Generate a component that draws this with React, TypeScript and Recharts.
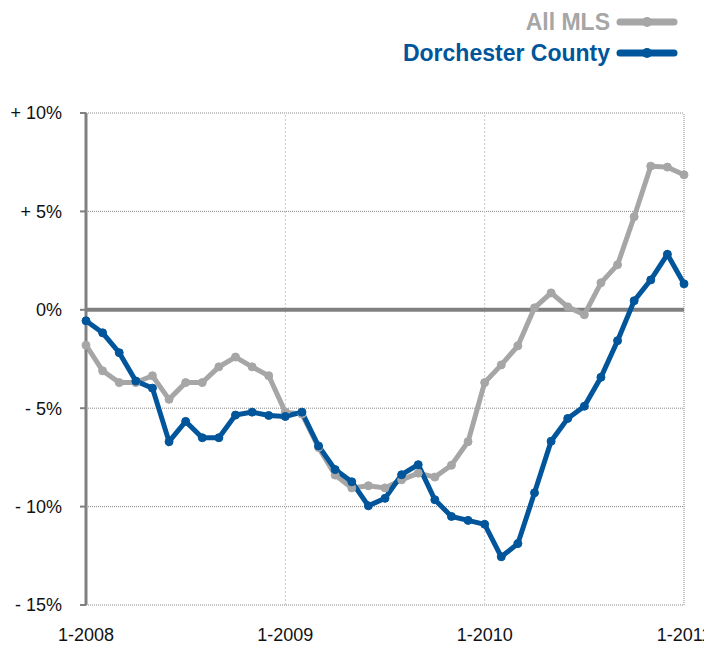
import { CartesianGrid, Line, LineChart, ReferenceLine, XAxis, YAxis } from "recharts";

const MONTHS = Array.from({ length: 37 }, (_, i) => i);

const ALL_MLS = [
  -1.8, -3.1, -3.7, -3.7, -3.35, -4.55, -3.7, -3.7, -2.9, -2.4, -2.9, -3.35,
  -5.2, -5.3, -7.0, -8.4, -9.05, -8.94, -9.05, -8.64, -8.3, -8.5, -7.9, -6.7,
  -3.7, -2.8, -1.83, 0.1, 0.86, 0.15, -0.25, 1.37, 2.29, 4.73, 7.3, 7.25, 6.86
];

const DORCHESTER = [
  -0.56, -1.17, -2.18, -3.62, -3.98, -6.7, -5.67, -6.5, -6.5, -5.35, -5.2, -5.37,
  -5.42, -5.2, -6.92, -8.12, -8.74, -9.96, -9.58, -8.38, -7.87, -9.65, -10.5, -10.7,
  -10.9, -12.55, -11.88, -9.3, -6.68, -5.52, -4.9, -3.43, -1.57, 0.46, 1.52, 2.82, 1.32
];

const X_TICKS = [0, 12, 24, 36];
const X_LABELS = ["1-2008", "1-2009", "1-2010", "1-2011"];
const Y_TICKS = [-15, -10, -5, 0, 5, 10];
const Y_LABELS = ["- 15%", "- 10%", "- 5%", "0%", "+ 5%", "+ 10%"];

const SERIES = [
  { key: "allMls", name: "All MLS", color: "#a6a6a6" },
  { key: "dorchester", name: "Dorchester County", color: "#00559b" }
];

const data = MONTHS.map((m, i) => ({ month: m, allMls: ALL_MLS[i], dorchester: DORCHESTER[i] }));

const FONT = '"Liberation Sans", Arial, Helvetica, sans-serif';

function ChartLegend() {
  return (
    <>
      {SERIES.map((s, i) => (
        <div key={s.key} style={{ position: "absolute", top: 14 + i * 31 - 15, left: 0, width: 704, height: 30 }}>
          <span
            style={{
              position: "absolute",
              right: 102,
              top: 0,
              lineHeight: "30px",
              fontFamily: FONT,
              fontWeight: "bold",
              fontSize: 23,
              color: s.color,
              whiteSpace: "nowrap"
            }}
          >
            {s.name}
          </span>
          <svg style={{ position: "absolute", left: 608, top: 9 }} width={62} height={12}>
            <line x1={4} y1={6} x2={58} y2={6} stroke={s.color} strokeWidth={7} strokeLinecap="round" />
            <circle cx={31} cy={6} r={5} fill={s.color} />
          </svg>
        </div>
      ))}
    </>
  );
}

export default function App() {
  return (
    <div style={{ position: "relative", width: 704, height: 638 }}>
      <LineChart width={704} height={638} data={data} margin={{ top: 105, right: 28, bottom: 0, left: 0 }}>
        <CartesianGrid vertical={false} stroke="#888" strokeDasharray="1 1" />
        <XAxis
          dataKey="month"
          type="number"
          domain={[0, 36]}
          ticks={X_TICKS}
          tickFormatter={(v: number) => X_LABELS[X_TICKS.indexOf(v)]}
          axisLine={false}
          tickLine={false}
          tickSize={0}
          tickMargin={23}
          height={41}
          tick={{ fill: "#111", fontSize: 18, fontFamily: FONT }}
          interval={0}
        />
        <YAxis
          type="number"
          domain={[-15, 10]}
          ticks={Y_TICKS}
          tickFormatter={(v: number) => Y_LABELS[Y_TICKS.indexOf(v)]}
          width={78}
          axisLine={{ stroke: "#808080", strokeWidth: 3 }}
          tickLine={{ stroke: "#808080", strokeWidth: 2 }}
          tickSize={6}
          tickMargin={18}
          tick={{ fill: "#111", fontSize: 18, fontFamily: FONT }}
          interval={0}
        />
        <ReferenceLine x={12} stroke="#c8c8c8" strokeDasharray="2 2" />
        <ReferenceLine x={24} stroke="#c8c8c8" strokeDasharray="2 2" />
        <ReferenceLine x={36} stroke="#888" strokeDasharray="1 1" />
        <ReferenceLine y={0} stroke="#808080" strokeWidth={4} />
        {SERIES.map((s) => (
          <Line
            key={s.key}
            type="linear"
            dataKey={s.key}
            name={s.name}
            stroke={s.color}
            strokeWidth={5}
            dot={{ r: 4, fill: s.color, stroke: s.color, strokeWidth: 1 }}
            activeDot={false}
            isAnimationActive={false}
          />
        ))}
      </LineChart>
      <ChartLegend />
    </div>
  );
}
